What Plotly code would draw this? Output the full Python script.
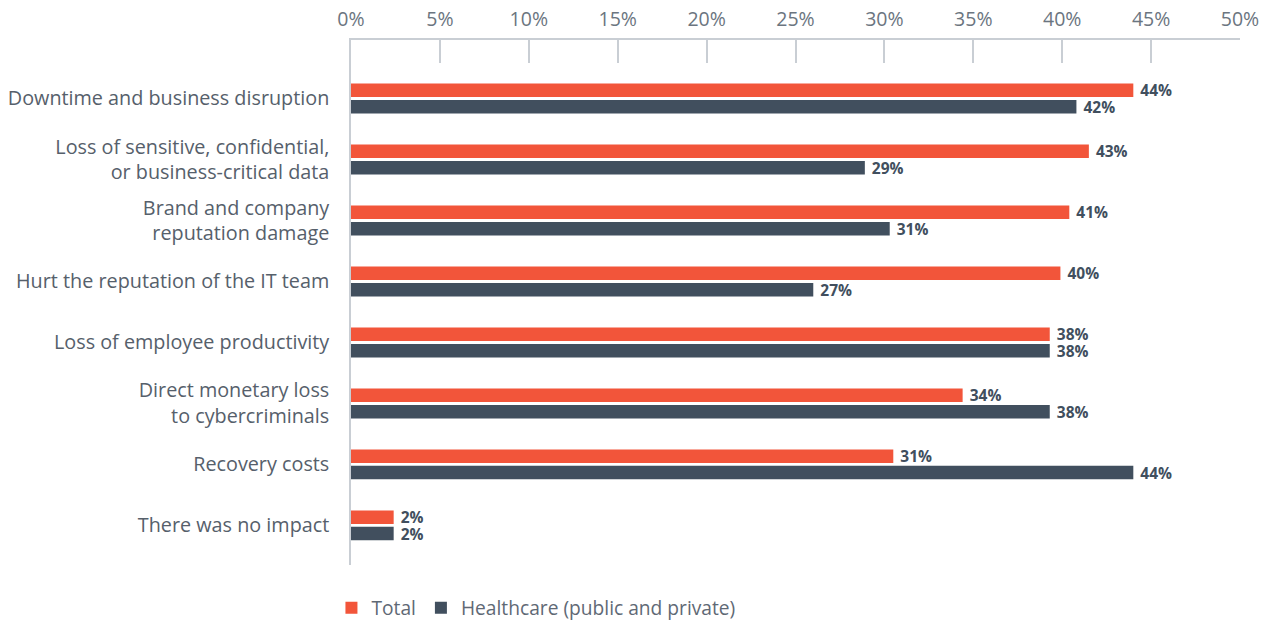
import plotly.graph_objects as go

categories = [
    "Downtime and business disruption",
    "Loss of sensitive, confidential,<br>or business-critical data",
    "Brand and company<br>reputation damage",
    "Hurt the reputation of the IT team",
    "Loss of employee productivity",
    "Direct monetary loss<br>to cybercriminals",
    "Recovery costs",
    "There was no impact",
]
total_values = [44.0, 41.5, 40.4, 39.9, 39.3, 34.4, 30.5, 2.4]
total_labels = ["44%", "43%", "41%", "40%", "38%", "34%", "31%", "2%"]
health_values = [40.8, 28.9, 30.3, 26.0, 39.3, 39.3, 44.0, 2.4]
health_labels = ["42%", "29%", "31%", "27%", "38%", "38%", "44%", "2%"]
x_ticks = [0, 5, 10, 15, 20, 25, 30, 35, 40, 45, 50]
x_tick_labels = [f"{t}%" for t in x_ticks]

ORANGE = "#f2553a"
NAVY = "#414f5e"
AXIS = "#c9ced4"
FONT = "Open Sans"

fig = go.Figure()
fig.add_trace(go.Bar(
    y=categories, x=total_values, orientation="h", name="Total",
    marker=dict(color=ORANGE, line=dict(width=0)),
    text=[" " + t for t in total_labels], textposition="outside",
    cliponaxis=False, constraintext="none",
    textfont=dict(family=FONT, size=15.5, color=NAVY, weight="bold"),
))
fig.add_trace(go.Bar(
    y=categories, x=health_values, orientation="h", name="Healthcare (public and private)",
    marker=dict(color=NAVY, line=dict(width=0)),
    text=[" " + t for t in health_labels], textposition="outside",
    cliponaxis=False, constraintext="none",
    textfont=dict(family=FONT, size=15.5, color=NAVY, weight="bold"),
))

fig.update_layout(
    width=1269, height=622,
    margin=dict(l=351, r=29, t=40, b=57),
    paper_bgcolor="white", plot_bgcolor="white",
    barmode="group", bargap=0.46, bargroupgap=0.18,
    font=dict(family=FONT, color="#56606b"),
    showlegend=True,
    legend=dict(orientation="h", x=-0.022, xanchor="left",
                yref="container", y=0.023, yanchor="middle",
                font=dict(family=FONT, size=19.2, color="#5f6975"),
                traceorder="normal"),
    xaxis=dict(
        side="top", range=[0, 50], tickvals=x_ticks, ticktext=x_tick_labels,
        showgrid=False, zeroline=False, showline=True, linecolor=AXIS, linewidth=1.5,
        ticks="inside", ticklen=23, tickcolor=AXIS, tickwidth=1.5,
        tickfont=dict(family=FONT, size=19.5, color="#6b7580"),
        ticklabelstandoff=4, automargin=False,
        fixedrange=True,
    ),
    yaxis=dict(
        type="category", range=[7.65, -0.96],
        showgrid=False, zeroline=False, showline=True, linecolor=AXIS, linewidth=1.5,
        ticks="", ticklabelstandoff=16, automargin=False,
        tickfont=dict(family=FONT, size=19.8, color="#56606b"),
        fixedrange=True,
    ),
)

fig.write_html("out.html", config={"displayModeBar": False},
               post_script="document.body.style.margin='0px';")
